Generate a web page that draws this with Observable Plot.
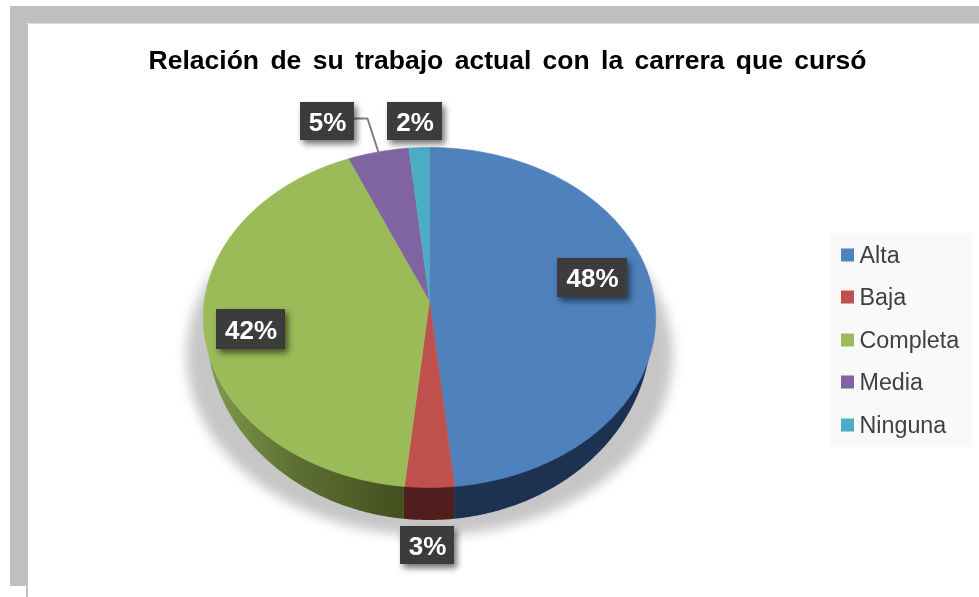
<!DOCTYPE html>
<html>
<head>
<meta charset="utf-8">
<script src="https://cdn.jsdelivr.net/npm/d3@7"></script>
<script src="https://cdn.jsdelivr.net/npm/@observablehq/plot@0.6"></script>
<style>
  html, body { margin: 0; padding: 0; background: #fff; }
  svg { display: block; }
  .pie-shadow { filter: blur(6px); }
  .box-shadow { filter: drop-shadow(3px 4px 3px rgba(0,0,0,.55)); }
  .soft { filter: blur(0.4px); }
  .title-text text { word-spacing: 4px; }
</style>
</head>
<body>
<div id="chart"></div>
<script>
// ---- chart values ----
const categories = ["Alta", "Baja", "Completa", "Media", "Ninguna"];
const shares     = [48.4, 3.2, 42.0, 4.8, 1.6];
const labels     = ["48%", "3%", "42%", "5%", "2%"];
const colours    = ["#4f81bd", "#c0504d", "#9bbb59", "#8064a2", "#4bacc6"];
const wallFills  = ["#1d3250", "#511e1e", "url(#wallGreen)", "#3f3050", "#25565f"];
const titleText  = "Relación de su trabajo actual con la carrera que cursó";

// ---- layout (pixels of the 979x597 picture) ----
const W = 979, H = 597;
const pie = {cx: 429, cy: 300, rx: 225, ry: 168.3, p: 0.1};
const base = {cx: 429, cy: 330, rx: 222, ry: 190};
const labelBoxes = [
  {x1: 557, x2: 627, y1: 258, y2: 297},
  {x1: 400, x2: 454, y1: 526, y2: 564},
  {x1: 216, x2: 285, y1: 309, y2: 349},
  {x1: 300, x2: 354, y1: 102, y2: 140},
  {x1: 387, x2: 442, y1: 102, y2: 140}
];
const leader = [{x: 354, y: 118}, {x: 367, y: 118}, {x: 378, y: 152}];
const legendBox = {x1: 830, x2: 972, y1: 233, y2: 447};
const legendY = [255, 297, 340, 382, 425];
const frame = [
  {x1: 10, x2: 979, y1: 6,  y2: 23,  fill: "#bfbfbf"},
  {x1: 10, x2: 26,  y1: 6,  y2: 586, fill: "#bfbfbf"},
  {x1: 26, x2: 28,  y1: 6,  y2: 597, fill: "#bfbfbf"},
  {x1: 26, x2: 979, y1: 23, y2: 24,  fill: "#dcdcdc"}
];

// ---- geometry derived from the shares ----
const project = (t) => {
  const X = Math.sin(t), Y = -Math.cos(t), k = 1 / (1 - pie.p * Y);
  return {x: pie.cx + pie.rx * X * k, y: pie.cy + pie.ry * Y * k};
};
const total = d3.sum(shares);
let acc = 0;
const slices = categories.map((name, i) => {
  const a0 = acc / total * 2 * Math.PI;
  acc += shares[i];
  return {name, i, a0, a1: acc / total * 2 * Math.PI};
});
const arcAngles = (a0, a1) => {
  const n = Math.max(2, Math.ceil((a1 - a0) / 0.01));
  return d3.range(n + 1).map(j => a0 + (a1 - a0) * j / n);
};
const tops = slices.flatMap(s => [
  {name: s.name, x: pie.cx, y: pie.cy},
  ...arcAngles(s.a0, s.a1).map(t => ({name: s.name, ...project(t)}))
]);
const lowerY = (x, yTop) => {
  const u = (x - base.cx) / base.rx;
  if (Math.abs(u) >= 1) return yTop;
  return Math.max(yTop, base.cy + base.ry * Math.sqrt(1 - u * u));
};
const wallFrom = Math.PI * 0.53, wallTo = Math.PI * 1.47;
const walls = slices.filter(s => s.a1 > wallFrom && s.a0 < wallTo).map(s => ({
  fill: wallFills[s.i],
  points: arcAngles(Math.max(s.a0, wallFrom), Math.min(s.a1, wallTo)).map(t => {
    const q = project(t);
    return {x: q.x, y1: q.y, y2: lowerY(q.x, q.y)};
  })
}));
const shadowOutline = d3.range(0, 2 * Math.PI, 0.02).map(t => ({
  x: 429 + 243 * Math.sin(t), y: 355 - 180 * Math.cos(t)
}));

const defs = () => {
  const d = d3.create("svg:defs");
  d.html(`
    <linearGradient id="wallGreen" gradientUnits="userSpaceOnUse" x1="204" x2="404" y1="0" y2="0">
      <stop offset="0" stop-color="#839e4c"/>
      <stop offset="0.45" stop-color="#5d7033"/>
      <stop offset="1" stop-color="#43501f"/>
    </linearGradient>
    <pattern id="boxTexture" patternUnits="userSpaceOnUse" width="4" height="4">
      <rect width="4" height="4" fill="#3b3b3b"/>
      <rect x="1" y="1" width="1" height="1" fill="#4b4b4b"/>
    </pattern>`);
  return d.node();
};

const rows = categories.map((name, i) => ({name, label: labels[i], ...labelBoxes[i], ly: legendY[i]}));

const chart = Plot.plot({
  width: W, height: H,
  margin: 0,
  style: {background: "#fff", fontFamily: "'Liberation Sans', Arial, sans-serif"},
  x: {domain: [0, W], range: [0, W], axis: null},
  y: {domain: [0, H], range: [0, H], axis: null},
  color: {domain: categories, range: colours},
  marks: [
    defs,
    Plot.rect(frame, {x1: "x1", x2: "x2", y1: "y1", y2: "y2", fill: "fill"}),
    Plot.line(shadowOutline, {x: "x", y: "y", fill: "#c6c6c6", stroke: "none", className: "pie-shadow"}),
    ...walls.map(w => Plot.areaY(w.points, {x: "x", y1: "y1", y2: "y2", fill: w.fill, curve: "linear"})),
    Plot.line(tops, {x: "x", y: "y", z: "name", fill: "name", stroke: "name", strokeWidth: 0.6, curve: "linear"}),
    Plot.line(leader, {x: "x", y: "y", stroke: "#7f7f7f", strokeWidth: 2, curve: "linear"}),
    Plot.rect(rows, {x1: "x1", x2: "x2", y1: "y1", y2: "y2", fill: "url(#boxTexture)", className: "box-shadow"}),
    Plot.text(rows, {x: d => (d.x1 + d.x2) / 2, y: d => (d.y1 + d.y2) / 2 + 1, text: "label",
      fill: "#fff", fontSize: 26, fontWeight: "bold", className: "soft"}),
    Plot.text([titleText], {x: 507, y: 60, text: d => d, fill: "#000", fontSize: 26.5, fontWeight: "bold",
      className: "soft title-text"}),
    Plot.rect([legendBox], {x1: "x1", x2: "x2", y1: "y1", y2: "y2", fill: "#f9f9f9"}),
    Plot.rect(rows, {x1: 841, x2: 854, y1: d => d.ly - 6.5, y2: d => d.ly + 6.5, fill: "name"}),
    Plot.text(rows, {x: 859, y: "ly", text: "name", textAnchor: "start", fill: "#404040", fontSize: 23.3, className: "soft"})
  ]
});
document.getElementById("chart").append(chart);
</script>
</body>
</html>
